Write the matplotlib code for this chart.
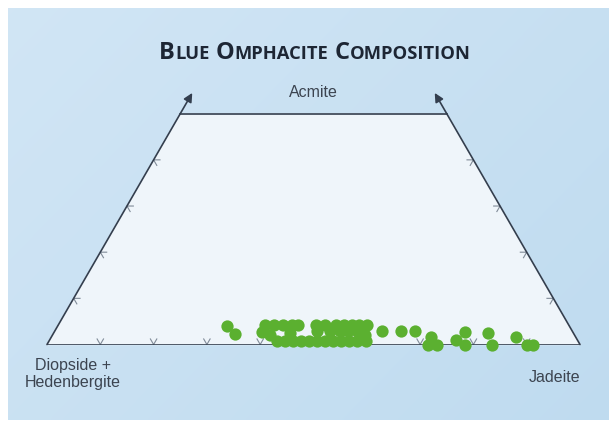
import numpy as np
import matplotlib.pyplot as plt

# Omphacite analyses, mol % (the rest is diopside + hedenbergite)
jadeite = [31.7, 34.1,
           38.8, 40.5, 42.2, 43.9, 45.0, 48.4, 50.1, 52.1, 53.6, 55.1, 56.4, 57.9,
           39.0, 40.8, 44.3, 49.3, 51.6, 53.5, 55.0, 56.7, 58.7,
           42.8, 44.3, 45.8, 47.3, 48.8, 50.3, 51.8, 53.3, 54.8, 56.3, 57.8, 59.4,
           61.4, 64.9, 67.5, 71.2, 71.5, 73.2, 76.2, 77.1, 78.4, 81.5, 83.5,
           87.2, 90.1, 91.2]
acmite = [4.0, 2.3,
          4.2, 4.2, 4.2, 4.2, 4.2, 4.2, 4.2, 4.2, 4.2, 4.2, 4.2, 4.2,
          2.7, 2.0, 2.5, 2.9, 2.9, 2.9, 2.9, 2.9, 2.0,
          0.8, 0.8, 0.8, 0.8, 0.8, 0.8, 0.8, 0.8, 0.8, 0.8, 0.8, 0.8,
          2.9, 2.9, 3.0, 1.6, 0.0, 0.0, 1.0, 2.6, 0.0, 2.4, 0.0,
          1.7, 0.0, 0.0]

tick_steps = [10, 20, 30, 40, 50, 60, 70, 80, 90]
side_ticks = [10, 20, 30, 40]
acmite_cut = 50      # diagram is cut off at 50 % acmite
arrow_reach = 54.5

S3 = np.sqrt(3) / 2
LINE = "#333e4e"
TICK = "#808b98"
GREEN = "#5bb030"


def tern(jd, ae):
    jd = np.asarray(jd, float) / 100
    ae = np.asarray(ae, float) / 100
    return jd + ae / 2, ae * S3


fig = plt.figure(figsize=(6.09, 4.26), dpi=100)
fig.patch.set_facecolor("white")

# light blue backdrop with a soft gradient
bg = fig.add_axes([8 / 609, 6 / 426, 1 - 8 / 609, 1 - 14 / 426])
u, v = np.meshgrid(np.linspace(0, 1, 200), np.linspace(0, 1, 140))
c0 = np.array([0.82, 0.90, 0.96])
c1 = np.array([0.75, 0.86, 0.94])
w = (0.6 * u + 0.4 * v)[..., None]
bg.imshow(c0 * (1 - w) + c1 * w, aspect="auto", interpolation="bilinear")
bg.axis("off")

ax = fig.add_axes([47 / 609, (426 - 344.5) / 426, 533 / 609, 0.5 * S3 * 533 / 426])
ax.set_xlim(0, 1)
ax.set_ylim(0, acmite_cut / 100 * S3)
ax.axis("off")

# trapezoid
cx, cy = tern([0, 100, 100 - acmite_cut, 0], [0, 0, acmite_cut, acmite_cut])
ax.fill(cx, cy, color="#eff5fa", zorder=1, clip_on=False)
ax.plot([cx[0], cx[1]], [cy[0], cy[1]], color=LINE, lw=1.2, zorder=3,
        solid_capstyle="butt")
ax.plot([cx[2], cx[3]], [cy[2], cy[3]], color=LINE, lw=1.2, zorder=3, clip_on=False)

for jd0, jd1 in [(0, 0), (100, 100 - arrow_reach)]:
    sx, sy = tern(jd0, 0)
    tx, ty = tern(jd1, arrow_reach)
    ax.annotate("", xy=(tx, ty), xytext=(sx, sy),
                arrowprops=dict(arrowstyle="-|>", color=LINE, lw=1.2,
                                mutation_scale=13, shrinkA=0, shrinkB=0),
                zorder=3, annotation_clip=False)

# chevron ticks along the grid directions
L = 0.012
for t in tick_steps:
    px, py = tern(t, 0)
    ax.plot([px - 0.5 * L, px, px + 0.5 * L], [py + S3 * L, py, py + S3 * L],
            color=TICK, lw=0.8, zorder=2)
for t in side_ticks:
    px, py = tern(0, t)
    ax.plot([px + L, px, px + 0.5 * L], [py, py, py - S3 * L],
            color=TICK, lw=0.8, zorder=2)
    px, py = tern(100 - t, t)
    ax.plot([px - L, px, px - 0.5 * L], [py, py, py - S3 * L],
            color=TICK, lw=0.8, zorder=2)

# data
dx, dy = tern(jadeite, acmite)
ax.scatter(dx, dy, s=78, color=GREEN, linewidths=0, zorder=4, clip_on=False)

# corner labels
lab = dict(fontsize=11.5, color="#3c4450", family="Liberation Sans",
           ha="center", va="center", annotation_clip=False)
ax.annotate("Diopside +\nHedenbergite", xy=tern(0, 0), xytext=(18.5, -21),
            textcoords="offset points", linespacing=1.15, **lab)
ax.annotate("Jadeite", xy=tern(100, 0), xytext=(-18.5, -23.5),
            textcoords="offset points", **lab)
ax.annotate("Acmite", xy=tern(50 - acmite_cut / 2, acmite_cut),
            xytext=(0, 15), textcoords="offset points", **lab)

# small-caps title, scaled to span about 314 px
title = "Blue Omphacite Composition"
tkw = dict(family="Open Sans", weight="bold", color="#1d2634", va="baseline",
           ha="left")
r = fig.canvas.get_renderer()
pieces = []
for word in title.upper().split():
    pieces.append((word[0], 1.0))
    pieces.append((word[1:], 0.78))


def layout(size):
    out, x = [], 0
    for i, (s, f) in enumerate(pieces):
        t = fig.text(0, 1 - 59 / 426, s, fontsize=size * f, **tkw)
        out.append((t, x))
        x += t.get_window_extent(r).width + (0.35 * size if i % 2 == 1 else 0.3)
    return out, x - 0.35 * size


texts, total = layout(15)
for t, _ in texts:
    t.remove()
texts, total = layout(15 * 314 / total)
x0 = 315 - total / 2
for t, off in texts:
    t.set_x((x0 + off) / 609)

fig.savefig("out.png", dpi=100)
